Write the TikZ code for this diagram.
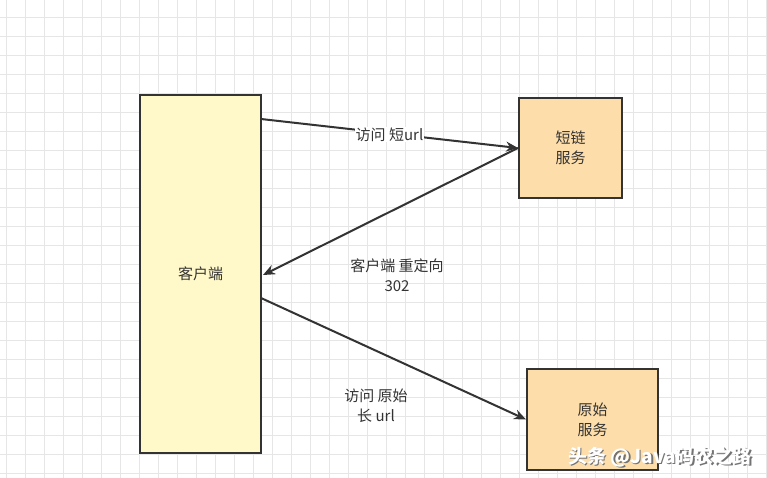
\documentclass[tikz,border=0pt]{standalone}
\usepackage{fontspec}
\setmainfont{Noto Sans CJK SC}
\usetikzlibrary{arrows.meta}
\definecolor{gridc}{HTML}{E6E6E6}
\definecolor{clientfill}{HTML}{FFF8C9}
\definecolor{svcfill}{HTML}{FDDDAA}
\definecolor{linec}{HTML}{333333}
\definecolor{textc}{HTML}{333333}
\begin{document}
\begin{tikzpicture}[x=1pt,y=-1pt,
  box/.style={draw=linec,line width=2pt,inner sep=0pt,font=\fontsize{15}{20}\selectfont,text=textc,align=center},
  conn/.style={draw=linec,line width=2pt,-{Stealth[length=12pt,width=10pt]}},
  lbl/.style={font=\fontsize{15}{20}\selectfont,text=textc,align=center,inner sep=1pt}]
\useasboundingbox (0,0) rectangle (767,478);
\fill[white] (0,0) rectangle (767,478);
\foreach \i in {0,...,40} {\draw[gridc,line width=0.8pt] (6.7+19*\i,0) -- (6.7+19*\i,478);}
\foreach \j in {0,...,25} {\draw[gridc,line width=0.8pt] (0,-2+19*\j) -- (767,-2+19*\j);}
\node[box,fill=clientfill,minimum width=121pt,minimum height=358pt] (client) at (200.5,274) {客户端};
\node[box,fill=svcfill,minimum width=103pt,minimum height=100pt] (short) at (570.5,148) {短链\\服务};
\node[box,fill=svcfill,minimum width=131pt,minimum height=101pt] (orig) at (592.5,419.5) {原始\\服务};
\coordinate (c1) at (261,119);
\coordinate (c2) at (263,275);
\coordinate (c3) at (261,298);
\draw[conn] (c1) -- node[lbl,fill=white,pos=0.5,yshift=-1pt] {访问 短url} (short.west);
\draw[conn] (short.west) -- (c2);
\draw[conn] (c3) -- (orig.west);
\node[lbl] (l2) at (397,275) {客户端 重定向\\302};
\node[lbl] (l3) at (376,406) {访问 原始\\长 url};
\node[font=\fontsize{19}{22}\selectfont\bfseries,text=black!55] (wm2) at (661.5,458.5) {头条 @Java码农之路};
\node[font=\fontsize{19}{22}\selectfont\bfseries,text=white] (wm) at (660,457) {头条 @Java码农之路};
\end{tikzpicture}
\end{document}
